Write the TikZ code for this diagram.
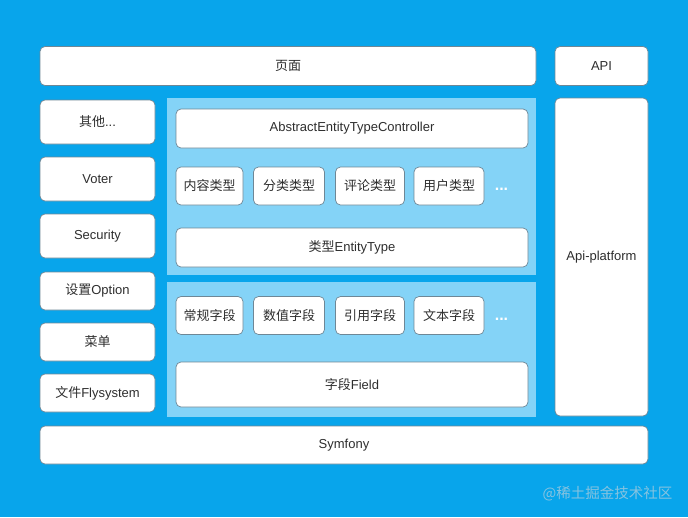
\documentclass[tikz,border=0pt]{standalone}
\usepackage{fontspec}
\setmainfont{Liberation Sans}
\newfontfamily\cjk{Noto Sans CJK SC}
\usetikzlibrary{positioning}
\definecolor{skyblue}{HTML}{08A5EB}
\definecolor{paleblue}{HTML}{84D3F7}
\definecolor{edgegray}{HTML}{6E8796}
\definecolor{txtgray}{HTML}{2E2E2E}
\definecolor{wmark}{HTML}{86C3E0}
\newcommand{\zh}[1]{{\cjk #1}}

\begin{document}
\begin{tikzpicture}[x=1pt, y=-1pt,
  box/.style={draw=edgegray, line width=0.7pt, fill=white, rounded corners=5pt,
    inner sep=0pt, text=txtgray, font=\fontsize{13}{15}\selectfont,
    minimum width=#1},
  box/.default=115pt,
  tall/.style={minimum height=44pt},
  short/.style={minimum height=38pt},
  tag/.style={box=69pt, minimum height=38pt},
  panel/.style={fill=paleblue, draw=none, minimum width=369pt, inner sep=0pt},
  dots/.style={text=white, font=\bfseries\fontsize{16}{18}\selectfont},
]

% Background
\fill[skyblue] (0,0) rectangle (688,517);
\useasboundingbox (0,0) rectangle (688,517);

% === Top row ===
\node[box=496pt, minimum height=39pt] (page) at (288,66) {\zh{页面}};
\node[box=93pt, minimum height=39pt] (api) at (601.5,66) {API};

% === Left column ===
\node[box, tall] (other) at (97.5,122) {\zh{其他}...};
\node[box, tall] (voter) at (97.5,179) {Voter};
\node[box, tall] (security) at (97.5,236) {Security};
\node[box, short] (option) at (97.5,291) {\zh{设置}Option};
\node[box, short] (menu) at (97.5,342) {\zh{菜单}};
\node[box, short] (files) at (97.5,393) {\zh{文件}Flysystem};

% === Panel: entity types ===
\node[panel, minimum height=177pt] (typepanel) at (351.5,186.5) {};
\node[box=352pt, minimum height=39pt] (controller) at (352,128.5)
  {AbstractEntityTypeController};
\node[tag, minimum width=67pt] (content) at (209.5,186) {\zh{内容类型}};
\node[tag, minimum width=71pt] (category) at (289,186) {\zh{分类类型}};
\node[tag] (comment) at (370,186) {\zh{评论类型}};
\node[tag, minimum width=70pt] (user) at (449,186) {\zh{用户类型}};
\node[dots] (moretypes) at (501.5,189) {...};
\node[box=352pt, minimum height=39pt] (entitytype) at (352,247.5)
  {\zh{类型}EntityType};

% === Panel: fields ===
\node[panel, minimum height=135pt] (fieldpanel) at (351.5,349.5) {};
\node[tag, minimum width=67pt] (plain) at (209.5,315.5) {\zh{常规字段}};
\node[tag, minimum width=71pt] (number) at (289,315.5) {\zh{数值字段}};
\node[tag] (reference) at (370,315.5) {\zh{引用字段}};
\node[tag, minimum width=70pt] (text) at (449,315.5) {\zh{文本字段}};
\node[dots] (morefields) at (501.5,319.5) {...};
\node[box=352pt, minimum height=45pt] (field) at (352,384.5) {\zh{字段}Field};

% === Right column ===
\node[box=93pt, minimum height=318pt] (apiplatform) at (601.5,257) {Api-platform};

% === Bottom ===
\node[box=608pt, minimum height=38pt] (symfony) at (344,445) {Symfony};

% Watermark
\node[text=wmark, font=\cjk\fontsize{14.5}{16}\selectfont] (mark) at (607.5,494)
  {@稀土掘金技术社区};

\end{tikzpicture}
\end{document}
